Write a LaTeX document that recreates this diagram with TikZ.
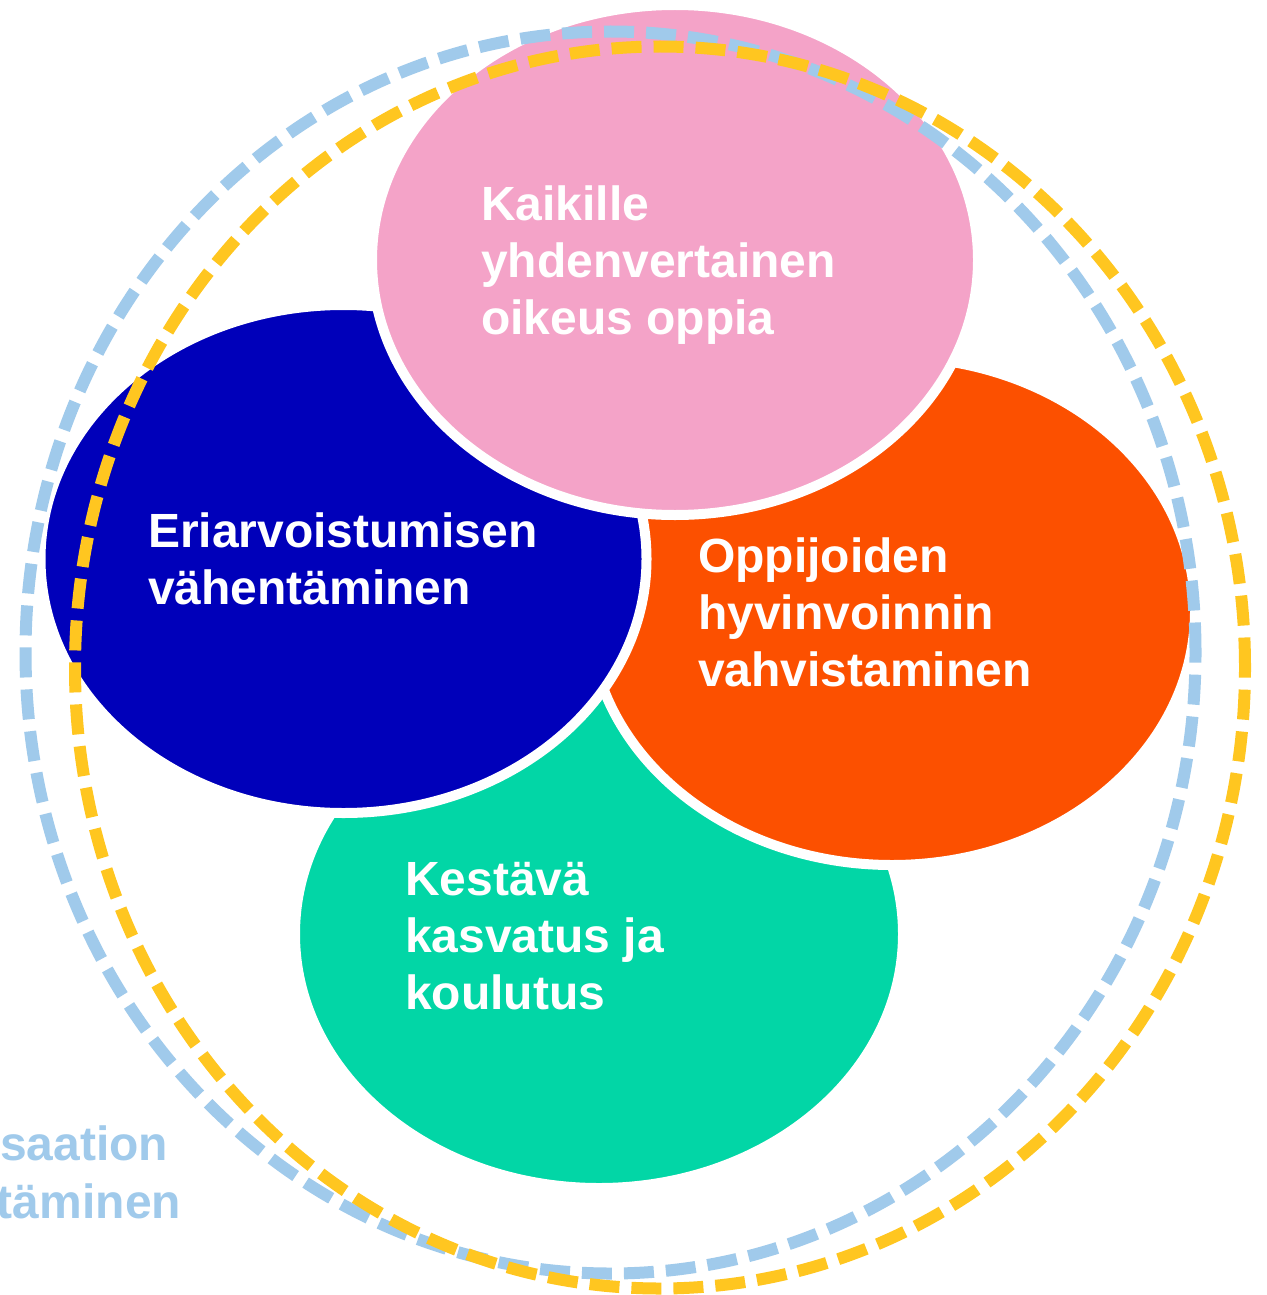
\documentclass[tikz,border=0pt]{standalone}
\usepackage{fontspec}
\setmainfont{Liberation Sans}
\definecolor{cpink}{HTML}{F4A3C8}
\definecolor{cblue}{HTML}{0000BA}
\definecolor{corange}{HTML}{FC5000}
\definecolor{cgreen}{HTML}{02D6A6}
\definecolor{cring}{HTML}{A0CAEB}
\definecolor{cyellow}{HTML}{FFC620}
\begin{document}
\begin{tikzpicture}[x=1pt,y=-1pt,
  blob/.style={draw=white,line width=10pt},
  ring/.style={line width=12pt,dash pattern=on 30pt off 12pt},
  lbl/.style={anchor=base west,inner sep=0pt,outer sep=0pt,align=left,
    font=\bfseries\fontsize{48}{57}\selectfont},
]
\useasboundingbox (0,0) rectangle (1266,1295);
\clip (0,0) rectangle (1266,1295);
\fill[white] (0,0) rectangle (1266,1295);

% filled ellipses, bottom to top
\path[blob,fill=cgreen]  (599,934)   ellipse [x radius=304pt, y radius=254pt];
\path[blob,fill=corange] (892,611)   ellipse [x radius=303pt, y radius=254pt];
\path[blob,fill=cblue]   (343.5,559) ellipse [x radius=303pt, y radius=254pt];
\path[blob,fill=cpink]   (675,260)   ellipse [x radius=303pt, y radius=255pt];

% dashed rings
\draw[ring,cring]   (610.5,652.5) ellipse [x radius=585pt, y radius=621pt];
\draw[ring,cyellow] (660,667.5)   ellipse [x radius=585pt, y radius=621pt];

% labels (anchor = baseline of the last line)
\node[lbl,text=white] (tpink)   at (481,334)  {Kaikille\\yhdenvertainen\\oikeus oppia};
\node[lbl,text=white] (tblue)   at (148,604)  {Eriarvoistumisen\\vähentäminen};
\node[lbl,text=white] (torange) at (698,686)  {Oppijoiden\\hyvinvoinnin\\vahvistaminen};
\node[lbl,text=white] (tgreen)  at (405,1009) {Kestävä\\kasvatus ja\\koulutus};
\node[lbl,text=cring] (tcut1)   at (0,1160) {saation};
\node[lbl,text=cring] (tcut2)   at (-3,1218) {täminen};
\end{tikzpicture}
\end{document}
